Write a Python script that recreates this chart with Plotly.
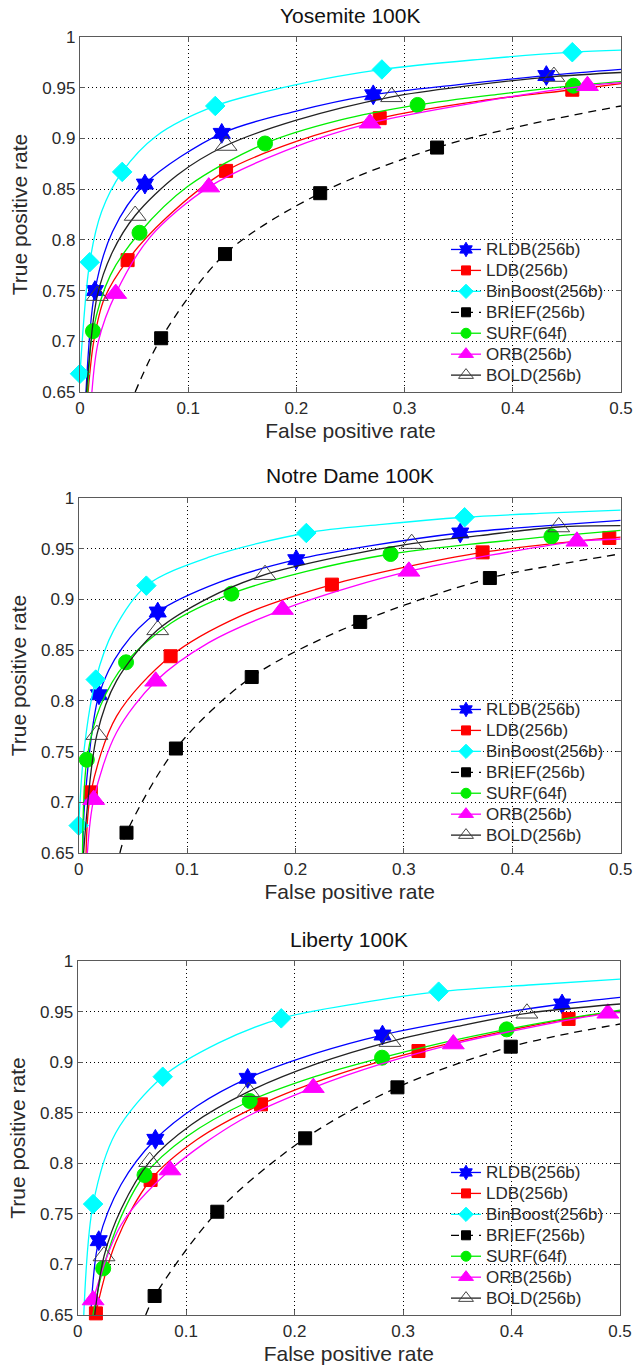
import plotly.graph_objects as go

# ---------------- data ----------------
SERIES = ["RLDB(256b)", "LDB(256b)", "BinBoost(256b)", "BRIEF(256b)",
          "SURF(64f)", "ORB(256b)", "BOLD(256b)"]
TITLES = ["Yosemite 100K", "Notre Dame 100K", "Liberty 100K"]
X_TICKS = [0, 0.1, 0.2, 0.3, 0.4, 0.5]
X_TICK_TEXT = ["0", "0.1", "0.2", "0.3", "0.4", "0.5"]
Y_TICKS = [0.65, 0.7, 0.75, 0.8, 0.85, 0.9, 0.95, 1.0]
Y_TICK_TEXT = ["0.65", "0.7", "0.75", "0.8", "0.85", "0.9", "0.95", "1"]
X_LABEL = "False positive rate"
Y_LABEL = "True positive rate"

# Yosemite 100K
yos_marker_fpr = {
    "RLDB(256b)": [0.0138, 0.060, 0.131, 0.271, 0.431],
    "LDB(256b)": [0.044, 0.135, 0.277, 0.455],
    "BinBoost(256b)": [0.0, 0.009, 0.039, 0.125, 0.279, 0.455],
    "BRIEF(256b)": [0.075, 0.134, 0.222, 0.330],
    "SURF(64f)": [0.012, 0.055, 0.171, 0.312, 0.456],
    "ORB(256b)": [0.033, 0.119, 0.268, 0.469],
    "BOLD(256b)": [0.016, 0.051, 0.135, 0.288, 0.438],
}
yos_marker_tpr = {
    "RLDB(256b)": [0.750, 0.855, 0.905, 0.943, 0.962],
    "LDB(256b)": [0.780, 0.868, 0.920, 0.948],
    "BinBoost(256b)": [0.668, 0.778, 0.867, 0.932, 0.968, 0.985],
    "BRIEF(256b)": [0.703, 0.786, 0.846, 0.891],
    "SURF(64f)": [0.710, 0.807, 0.895, 0.933, 0.952],
    "ORB(256b)": [0.747, 0.852, 0.915, 0.952],
    "BOLD(256b)": [0.745, 0.824, 0.893, 0.941, 0.961],
}
yos_curve_fpr = {
    "RLDB(256b)": [0.0055, 0.0138, 0.03, 0.060, 0.131, 0.2, 0.271, 0.35, 0.431, 0.5],
    "LDB(256b)": [0.0075, 0.0127, 0.0224, 0.044, 0.08, 0.135, 0.2, 0.277, 0.37, 0.455, 0.5],
    "BinBoost(256b)": [0.0, 0.009, 0.02, 0.039, 0.07, 0.125, 0.2, 0.279, 0.37, 0.455, 0.5],
    "BRIEF(256b)": [0.051, 0.075, 0.134, 0.222, 0.330, 0.42, 0.5],
    "SURF(64f)": [0.007, 0.012, 0.028, 0.055, 0.1, 0.171, 0.24, 0.312, 0.39, 0.456, 0.5],
    "ORB(256b)": [0.011, 0.017, 0.033, 0.065, 0.119, 0.19, 0.268, 0.37, 0.469, 0.5],
    "BOLD(256b)": [0.006, 0.016, 0.03, 0.051, 0.09, 0.135, 0.2, 0.288, 0.36, 0.438, 0.5],
}
yos_curve_tpr = {
    "RLDB(256b)": [0.65, 0.750, 0.808, 0.855, 0.905, 0.927, 0.943, 0.953, 0.962, 0.968],
    "LDB(256b)": [0.65, 0.70, 0.742, 0.780, 0.822, 0.868, 0.897, 0.920, 0.937, 0.948, 0.954],
    "BinBoost(256b)": [0.668, 0.778, 0.828, 0.867, 0.902, 0.932, 0.953, 0.968, 0.978, 0.985, 0.987],
    "BRIEF(256b)": [0.65, 0.703, 0.786, 0.846, 0.891, 0.915, 0.932],
    "SURF(64f)": [0.65, 0.710, 0.765, 0.807, 0.853, 0.895, 0.918, 0.933, 0.944, 0.952, 0.956],
    "ORB(256b)": [0.65, 0.70, 0.747, 0.803, 0.852, 0.888, 0.915, 0.936, 0.952, 0.955],
    "BOLD(256b)": [0.65, 0.745, 0.788, 0.824, 0.864, 0.893, 0.918, 0.941, 0.952, 0.961, 0.965],
}

# Notre Dame 100K
nd_marker_fpr = {
    "RLDB(256b)": [0.0187, 0.0729, 0.2007, 0.352],
    "LDB(256b)": [0.0112, 0.0848, 0.2336, 0.3726, 0.4895],
    "BinBoost(256b)": [0.0, 0.0157, 0.0624, 0.21, 0.356],
    "BRIEF(256b)": [0.0441, 0.0897, 0.1596, 0.2597, 0.3793],
    "SURF(64f)": [0.0075, 0.0437, 0.1409, 0.2877, 0.4361],
    "ORB(256b)": [0.0138, 0.071, 0.188, 0.3046, 0.4596],
    "BOLD(256b)": [0.0168, 0.0729, 0.1719, 0.3072, 0.4428],
}
nd_marker_tpr = {
    "RLDB(256b)": [0.806, 0.8876, 0.9392, 0.9655],
    "LDB(256b)": [0.7098, 0.844, 0.9146, 0.9464, 0.9606],
    "BinBoost(256b)": [0.677, 0.821, 0.9136, 0.9655, 0.981],
    "BRIEF(256b)": [0.670, 0.753, 0.8235, 0.8778, 0.9211],
    "SURF(64f)": [0.742, 0.838, 0.9057, 0.9448, 0.9622],
    "ORB(256b)": [0.7026, 0.8193, 0.890, 0.9277, 0.9573],
    "BOLD(256b)": [0.7667, 0.870, 0.9244, 0.955, 0.9714],
}
nd_curve_fpr = {
    "RLDB(256b)": [0.0037, 0.0056, 0.0187, 0.04, 0.0729, 0.13, 0.2007, 0.27, 0.352, 0.43, 0.5],
    "LDB(256b)": [0.0068, 0.0112, 0.035, 0.0848, 0.15, 0.2336, 0.3, 0.3726, 0.4895, 0.5],
    "BinBoost(256b)": [0.0, 0.005, 0.0157, 0.032, 0.0624, 0.12, 0.21, 0.28, 0.356, 0.43, 0.5],
    "BRIEF(256b)": [0.038, 0.0441, 0.0897, 0.1596, 0.2597, 0.3793, 0.44, 0.5],
    "SURF(64f)": [0.0035, 0.0075, 0.02, 0.0437, 0.085, 0.1409, 0.21, 0.2877, 0.36, 0.4361, 0.5],
    "ORB(256b)": [0.008, 0.0138, 0.035, 0.071, 0.12, 0.188, 0.25, 0.3046, 0.38, 0.4596, 0.5],
    "BOLD(256b)": [0.0045, 0.0168, 0.035, 0.0729, 0.12, 0.1719, 0.24, 0.3072, 0.37, 0.4428, 0.5],
}
nd_curve_tpr = {
    "RLDB(256b)": [0.65, 0.70, 0.806, 0.852, 0.8876, 0.917, 0.9392, 0.953, 0.9655, 0.9726, 0.978],
    "LDB(256b)": [0.65, 0.7098, 0.785, 0.844, 0.884, 0.9146, 0.9316, 0.9464, 0.9606, 0.9615],
    "BinBoost(256b)": [0.677, 0.752, 0.821, 0.869, 0.9136, 0.9416, 0.9655, 0.974, 0.981, 0.985, 0.988],
    "BRIEF(256b)": [0.65, 0.670, 0.753, 0.8235, 0.8778, 0.9211, 0.934, 0.945],
    "SURF(64f)": [0.65, 0.742, 0.795, 0.838, 0.8765, 0.9057, 0.9276, 0.9448, 0.9542, 0.9622, 0.968],
    "ORB(256b)": [0.65, 0.7026, 0.769, 0.8193, 0.8574, 0.890, 0.912, 0.9277, 0.9436, 0.9573, 0.9596],
    "BOLD(256b)": [0.65, 0.7667, 0.82, 0.870, 0.9016, 0.9244, 0.942, 0.955, 0.963, 0.9714, 0.9727],
}

# Liberty 100K
lib_marker_fpr = {
    "RLDB(256b)": [0.0194, 0.0716, 0.1567, 0.281, 0.4466],
    "LDB(256b)": [0.0168, 0.0672, 0.169, 0.3142, 0.4526],
    "BinBoost(256b)": [0.0142, 0.0784, 0.1877, 0.3328],
    "BRIEF(256b)": [0.0709, 0.1287, 0.2097, 0.2948, 0.3993],
    "SURF(64f)": [0.0235, 0.0616, 0.1586, 0.2806, 0.3955],
    "ORB(256b)": [0.0142, 0.0851, 0.2172, 0.3463, 0.4888],
    "BOLD(256b)": [0.0243, 0.0664, 0.1575, 0.288, 0.4142],
}
lib_marker_tpr = {
    "RLDB(256b)": [0.7235, 0.8237, 0.884, 0.9268, 0.9575],
    "LDB(256b)": [0.6516, 0.7835, 0.8583, 0.911, 0.9427],
    "BinBoost(256b)": [0.7597, 0.8856, 0.9433, 0.9697],
    "BRIEF(256b)": [0.6688, 0.7521, 0.8247, 0.8751, 0.9153],
    "SURF(64f)": [0.6961, 0.7884, 0.8616, 0.9044, 0.9324],
    "ORB(256b)": [0.6648, 0.7933, 0.8748, 0.9179, 0.9483],
    "BOLD(256b)": [0.7083, 0.8016, 0.8708, 0.9203, 0.9483],
}
lib_curve_fpr = {
    "RLDB(256b)": [0.012, 0.0194, 0.04, 0.0716, 0.11, 0.1567, 0.22, 0.281, 0.36, 0.4466, 0.5],
    "LDB(256b)": [0.0145, 0.0168, 0.035, 0.0672, 0.11, 0.169, 0.24, 0.3142, 0.38, 0.4526, 0.5],
    "BinBoost(256b)": [0.0056, 0.0142, 0.035, 0.0784, 0.13, 0.1877, 0.26, 0.3328, 0.42, 0.5],
    "BRIEF(256b)": [0.0627, 0.0709, 0.1287, 0.2097, 0.2948, 0.3993, 0.5],
    "SURF(64f)": [0.014, 0.0235, 0.04, 0.0616, 0.1, 0.1586, 0.22, 0.2806, 0.34, 0.3955, 0.45, 0.5],
    "ORB(256b)": [0.0142, 0.04, 0.0851, 0.15, 0.2172, 0.28, 0.3463, 0.42, 0.4888, 0.5],
    "BOLD(256b)": [0.0157, 0.0243, 0.04, 0.0664, 0.105, 0.1575, 0.22, 0.288, 0.35, 0.4142, 0.5],
}
lib_curve_tpr = {
    "RLDB(256b)": [0.65, 0.7235, 0.779, 0.8237, 0.8567, 0.884, 0.9089, 0.9268, 0.9432, 0.9575, 0.964],
    "LDB(256b)": [0.63, 0.6516, 0.7215, 0.7835, 0.8235, 0.8583, 0.888, 0.911, 0.9275, 0.9427, 0.9506],
    "BinBoost(256b)": [0.65, 0.7597, 0.83, 0.8856, 0.919, 0.9433, 0.9583, 0.9697, 0.9765, 0.982],
    "BRIEF(256b)": [0.65, 0.6688, 0.7521, 0.8247, 0.8751, 0.9153, 0.9377],
    "SURF(64f)": [0.65, 0.6961, 0.747, 0.7884, 0.826, 0.8616, 0.8861, 0.9044, 0.92, 0.9324, 0.943, 0.9515],
    "ORB(256b)": [0.6648, 0.739, 0.7933, 0.8426, 0.8748, 0.8983, 0.9179, 0.9349, 0.9483, 0.949],
    "BOLD(256b)": [0.65, 0.7083, 0.7546, 0.8016, 0.8383, 0.8708, 0.8982, 0.9203, 0.9353, 0.9483, 0.9575],
}

# ---------------- style ----------------
FIG_W, FIG_H = 635, 1366
FONT = "Liberation Sans, Arial, sans-serif"
TEXT_COLOR = "#2a2a2a"
STYLE = {
    "RLDB(256b)": dict(color="#0000ff", dash="solid", symbol="hexagram", size=15, lsize=11, fill="#0000ff"),
    "LDB(256b)": dict(color="#ff0000", dash="solid", symbol="square", size=13, lsize=9, fill="#ff0000"),
    "BinBoost(256b)": dict(color="#00ffff", dash="solid", symbol="diamond", size=15, lsize=11, fill="#00ffff"),
    "BRIEF(256b)": dict(color="#000000", dash="8px,6px", symbol="square", size=13, lsize=9, fill="#000000"),
    "SURF(64f)": dict(color="#00ee00", dash="solid", symbol="circle", size=15, lsize=10, fill="#00ee00"),
    "ORB(256b)": dict(color="#ff00ff", dash="solid", symbol="triangle-up", size=19, lsize=13, fill="#ff00ff"),
    "BOLD(256b)": dict(color="#222222", dash="solid", symbol="triangle-up-open", size=19, lsize=13, fill="#444444"),
}

# plot boxes in pixels: left, top, right, bottom
BOXES = [(80, 37, 621, 392), (78.7, 498, 620.7, 853), (77.7, 961, 620, 1315)]
LEGEND_TOP_PX = [234, 694, 1157]
LEGEND_LEFT_PX = 446

panels = [
    (yos_curve_fpr, yos_curve_tpr, yos_marker_fpr, yos_marker_tpr),
    (nd_curve_fpr, nd_curve_tpr, nd_marker_fpr, nd_marker_tpr),
    (lib_curve_fpr, lib_curve_tpr, lib_marker_fpr, lib_marker_tpr),
]

fig = go.Figure()
layout = dict(
    width=FIG_W, height=FIG_H,
    margin=dict(l=0, r=0, t=0, b=0),
    paper_bgcolor="white", plot_bgcolor="white",
    font=dict(family=FONT, color=TEXT_COLOR),
    annotations=[],
)

for i, (cfpr, ctpr, mfpr, mtpr) in enumerate(panels):
    k = "" if i == 0 else str(i + 1)
    xa, ya = "x" + k, "y" + k
    leg = "legend" + k
    for s in SERIES:
        st = STYLE[s]
        fig.add_trace(go.Scatter(
            x=cfpr[s], y=ctpr[s], mode="lines", xaxis=xa, yaxis=ya,
            line=dict(color=st["color"], width=1.3, dash=st["dash"], shape="spline", smoothing=0.9),
            showlegend=False, hoverinfo="skip"))
        fig.add_trace(go.Scatter(
            x=mfpr[s], y=mtpr[s], mode="markers", xaxis=xa, yaxis=ya, cliponaxis=False,
            marker=dict(symbol=st["symbol"], size=st["size"], color=st["fill"],
                        line=dict(color=st["fill"], width=1)),
            showlegend=False, hoverinfo="skip"))
    for s in SERIES:
        st = STYLE[s]
        fig.add_trace(go.Scatter(
            x=[None], y=[None], mode="lines+markers", xaxis=xa, yaxis=ya,
            name='<span style="font-size:17px">' + s + "</span>",
            legend=leg,
            line=dict(color=st["color"], width=1.3, dash=st["dash"]),
            marker=dict(symbol=st["symbol"], size=st["lsize"], color=st["fill"],
                        line=dict(color=st["fill"], width=1))))

    L, T, R, B = BOXES[i]
    axis_common = dict(
        showline=True, linecolor="#5a5a5a", linewidth=1.4, mirror="ticks",
        ticks="inside", ticklen=5, tickcolor="#5a5a5a", tickwidth=1,
        showgrid=True, gridcolor="#000000", gridwidth=1, griddash="1px,3px",
        zeroline=False, automargin=False, fixedrange=True,
        tickfont=dict(family=FONT, size=17, color=TEXT_COLOR),
    )
    layout["xaxis" + k] = dict(
        axis_common, domain=[L / FIG_W, R / FIG_W], anchor=ya, range=[0, 0.5],
        tickvals=X_TICKS, ticktext=X_TICK_TEXT,
        title=dict(text=X_LABEL, font=dict(family=FONT, size=21, color=TEXT_COLOR), standoff=6))
    layout["yaxis" + k] = dict(
        axis_common, domain=[1 - B / FIG_H, 1 - T / FIG_H], anchor=xa, range=[0.65, 1.0],
        tickvals=Y_TICKS, ticktext=Y_TICK_TEXT,
        title=dict(text=Y_LABEL, font=dict(family=FONT, size=21, color=TEXT_COLOR), standoff=8))
    layout[leg] = dict(
        x=LEGEND_LEFT_PX / FIG_W, y=1 - LEGEND_TOP_PX[i] / FIG_H,
        xanchor="left", yanchor="top", bgcolor="rgba(0,0,0,0)", borderwidth=0,
        font=dict(family=FONT, size=13.8, color=TEXT_COLOR), tracegroupgap=0)
    layout["annotations"].append(dict(
        text=TITLES[i], xref="paper", yref="paper",
        x=(L + R) / 2 / FIG_W, y=1 - (T - 22) / FIG_H,
        xanchor="center", yanchor="middle", showarrow=False,
        font=dict(family=FONT, size=21, color="#111111")))

fig.update_layout(**layout)
fig.write_html("out.html", config={"displayModeBar": False},
               post_script="document.body.style.margin='0';")
